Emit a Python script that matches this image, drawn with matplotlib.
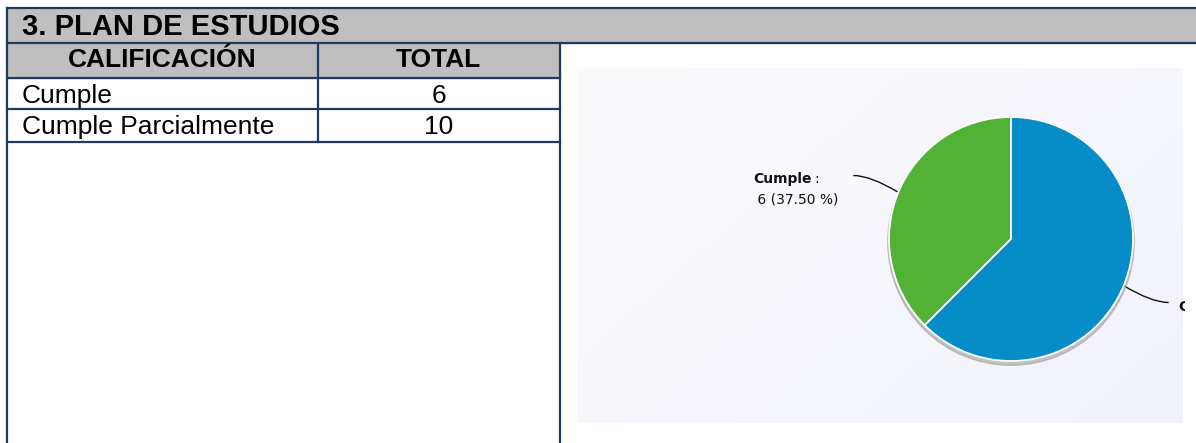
import numpy as np
import matplotlib
matplotlib.use("Agg")
import matplotlib.pyplot as plt
from matplotlib.patches import Rectangle, Circle, PathPatch
from matplotlib.path import Path
from matplotlib.transforms import Bbox, TransformedBbox

SECTION_TITLE = "3. PLAN DE ESTUDIOS"
HEADERS = ["CALIFICACIÓN", "TOTAL"]
categories = ["Cumple", "Cumple Parcialmente"]
totals = [6, 10]
slice_colors = ["#52B236", "#068DC8"]

LINE = "#1F3B5C"
GRAY = "#BFBFBF"
W, H = 1196, 443

fig = plt.figure(figsize=(W / 100, H / 100), dpi=100)
ax = fig.add_axes([0, 0, 1, 1])
ax.set_xlim(0, W)
ax.set_ylim(H, 0)
ax.axis("off")

# table on the left, drawn in pixel coordinates
x_left, x_mid, x_right = 6.7, 317.7, 560
rows_y = [7.5, 42.5, 77.5, 109, 142]

ax.add_patch(Rectangle((x_left, rows_y[0]), W - x_left, rows_y[1] - rows_y[0], color=GRAY, zorder=1))
ax.add_patch(Rectangle((x_left, rows_y[1]), x_right - x_left, rows_y[2] - rows_y[1], color=GRAY, zorder=1))

lw = 1.6
ax.plot([x_left, W], [rows_y[0], rows_y[0]], color=LINE, lw=lw, zorder=3)
ax.plot([x_left, W], [rows_y[1], rows_y[1]], color=LINE, lw=lw, zorder=3)
for y in rows_y[2:]:
    ax.plot([x_left, x_right], [y, y], color=LINE, lw=lw, zorder=3)
ax.plot([x_left, x_left], [rows_y[0], H], color=LINE, lw=lw, zorder=3)
ax.plot([x_right, x_right], [rows_y[1], H], color=LINE, lw=lw, zorder=3)
ax.plot([x_mid, x_mid], [rows_y[1], rows_y[4]], color=LINE, lw=lw, zorder=3)

tfont = "Liberation Sans"
ax.text(22, 35, SECTION_TITLE, fontsize=21, fontweight="bold", family=tfont, va="baseline", zorder=4)
ax.text((x_left + x_mid) / 2, 67, HEADERS[0], fontsize=19, fontweight="bold", family=tfont,
        ha="center", va="baseline", zorder=4)
ax.text((x_mid + x_right) / 2, 67, HEADERS[1], fontsize=19, fontweight="bold", family=tfont,
        ha="center", va="baseline", zorder=4)
baselines = [103, 134]
for cat, tot, yb in zip(categories, totals, baselines):
    ax.text(22, yb, cat, fontsize=19, family=tfont, va="baseline", zorder=4)
    ax.text((x_mid + x_right) / 2, yb, str(tot), fontsize=19, family=tfont, ha="center", va="baseline", zorder=4)

# chart panel background (soft diagonal gradient)
gx, gy = np.meshgrid(np.linspace(0, 1, 200), np.linspace(0, 1, 120))
t = gx * 0.6 + gy * 0.4
c0 = np.array([251, 251, 254]) / 255
c1 = np.array([242, 242, 251]) / 255
grad = c0[None, None, :] * (1 - t[..., None]) + c1[None, None, :] * t[..., None]
ax.imshow(grad, extent=[577, 1183, 423, 68], aspect="auto", zorder=0.5)
ax.set_xlim(0, W)
ax.set_ylim(H, 0)

# the chart image is cropped at the panel's right edge
panel_clip = TransformedBbox(Bbox([[577, 60], [1185, 430]]), ax.transData)

# pie
cx, cy, r = 1011, 239, 122
pax = fig.add_axes([(cx - r) / W, (H - cy - r) / H, 2 * r / W, 2 * r / H])
pax.patch.set_alpha(0)
pax.add_patch(Circle((0.0, -0.025), 1.01, color="#9a9a9a", alpha=0.55, zorder=0, clip_on=False))
wedges, _ = pax.pie(totals, colors=slice_colors, startangle=90, counterclock=True, radius=1,
                    wedgeprops=dict(edgecolor="white", linewidth=1.3))
for w_ in wedges:
    w_.set_zorder(2)
pax.set_xlim(-1, 1)
pax.set_ylim(-1, 1)
pax.axis("off")

# labels with leader lines
total_sum = sum(totals)
to_pix = ax.transData.inverted()
fig.canvas.draw()
for w_, cat, tot in zip(wedges, categories, totals):
    theta = np.deg2rad((w_.theta1 + w_.theta2) / 2)
    disp = pax.transData.transform((np.cos(theta), np.sin(theta)))
    axp, ayp = to_pix.transform(disp)
    side = np.sign(np.cos(theta))
    ex, ey = axp + side * 45, ayp - np.sin(theta) * 44
    path = Path([(axp, ayp), (axp + side * 28, ey), (ex, ey)], [Path.MOVETO, Path.CURVE3, Path.CURVE3])
    line = ax.add_patch(PathPatch(path, fill=False, color="#111111", lw=1.0, zorder=5))
    line.set_clip_box(panel_clip)
    pct = f" {tot} ({tot / total_sum * 100:.2f} %)"
    x0 = ex - 100 if side < 0 else ex + 10
    name = ax.text(x0, ey + 8, cat, fontsize=10, fontweight="bold", family="DejaVu Sans",
                   va="baseline", color="#111111", zorder=6)
    fig.canvas.draw()
    bb = name.get_window_extent()
    nx_ = to_pix.transform((bb.x1, bb.y0))[0]
    colon = ax.text(nx_ + 3, ey + 8, ":", fontsize=10, family="DejaVu Sans", va="baseline",
                    color="#111111", zorder=6)
    val = ax.text(x0, ey + 28, pct, fontsize=10, family="DejaVu Sans", va="baseline",
                  color="#111111", zorder=6)
    for txt in (name, colon, val):
        txt.set_clip_on(True)
        txt.set_clip_box(panel_clip)

fig.savefig("out.png", dpi=100)
